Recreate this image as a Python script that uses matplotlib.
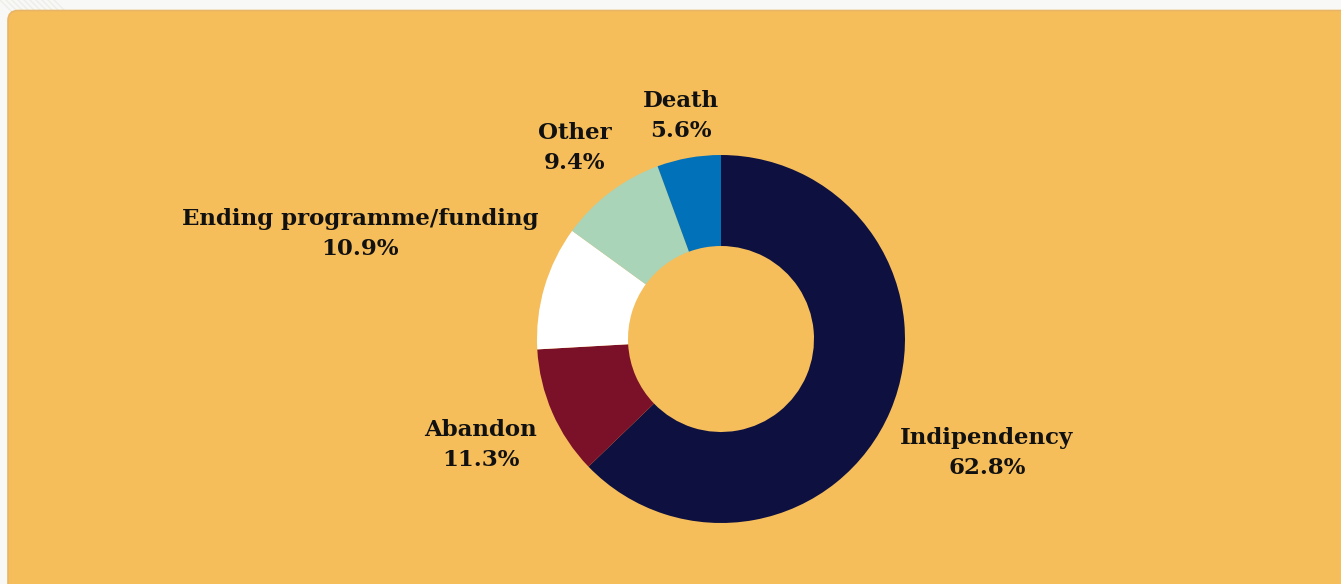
import matplotlib
matplotlib.use("Agg")
import matplotlib.pyplot as plt
from matplotlib.patches import FancyBboxPatch

# Reasons for leaving the programme
categories = ["Indipendency", "Abandon", "Ending programme/funding", "Other", "Death"]
shares = [62.8, 11.3, 10.9, 9.4, 5.6]
colors = ["#0e1140", "#7a1129", "#ffffff", "#a9d4b8", "#0171b9"]

# label anchor points (pixels from top-left) for each category
label_pos = {
    "Indipendency": (987, 453),
    "Abandon": (481, 445),
    "Ending programme/funding": (360, 234),
    "Other": (575, 148),
    "Death": (681, 116),
}

W, H = 1341, 584
fig = plt.figure(figsize=(W / 100, H / 100), dpi=100)
fig.patch.set_facecolor("#f8f9f6")
ax = fig.add_axes([0, 0, 1, 1])
ax.set_xlim(0, W)
ax.set_ylim(0, H)
ax.set_aspect("equal")
ax.axis("off")

# faint diagonal hatching in the page corner
for k in range(0, 60, 6):
    ax.plot([k, k + 12], [H, H - 12], color="#eceee9", lw=1.0, zorder=0)

# card background
card = FancyBboxPatch((8, -40), W + 40, H - 10 + 40 - 0.5,
                      boxstyle="round,pad=0,rounding_size=10",
                      facecolor="#f6bd5b", edgecolor="#e8b567", lw=1.2, zorder=1)
ax.add_patch(card)

cx, cy = 721, H - 339
wedges, _ = ax.pie(shares, colors=colors, startangle=90, counterclock=False,
                   radius=184, center=(cx, cy),
                   wedgeprops=dict(width=91, edgecolor="none"))
for w in wedges:
    w.set_zorder(2)

for name, val in zip(categories, shares):
    x, y = label_pos[name]
    ax.text(x, H - y, f"{name}\n{val:.1f}%", ha="center", va="center",
            fontsize=16.5, fontweight="bold", family="DejaVu Serif",
            color="#111111", linespacing=1.5, zorder=3)

ax.set_xlim(0, W)
ax.set_ylim(0, H)
fig.savefig("out.png", dpi=100, facecolor=fig.get_facecolor())
